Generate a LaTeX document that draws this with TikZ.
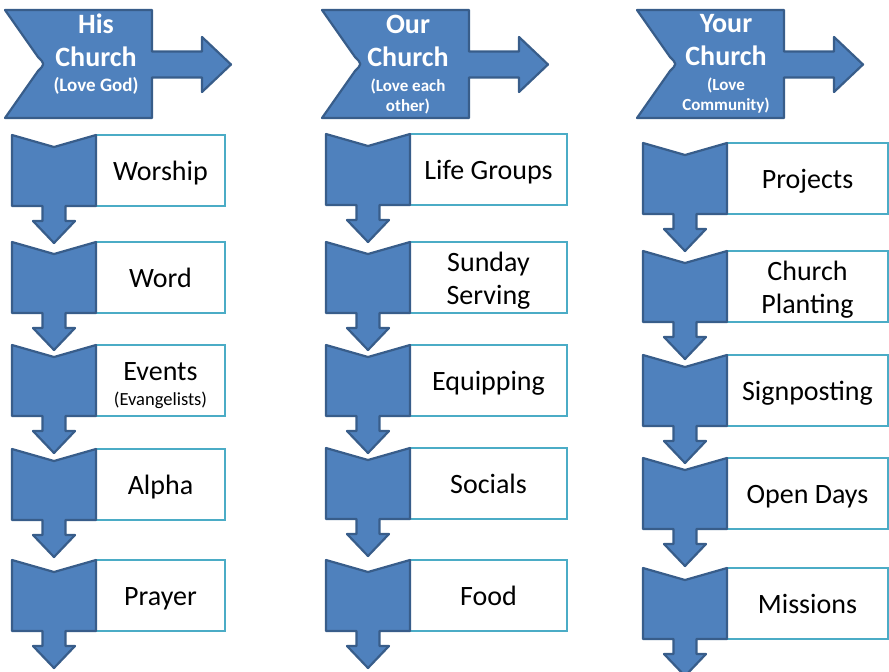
\documentclass[tikz,border=0pt]{standalone}
\usepackage{fontspec}
\setmainfont{Carlito}
\usepackage{tikz}
\definecolor{shapeblue}{HTML}{4F81BD}
\definecolor{shapeline}{HTML}{385D8A}
\definecolor{boxline}{HTML}{4BACC6}

\begin{document}
\begin{tikzpicture}[x=1pt,y=-1pt]
    \tikzstyle{headshape}=[draw=shapeline,fill=shapeblue,line width=2.2pt,line join=round]
    \tikzstyle{stepshape}=[draw=shapeline,fill=shapeblue,line width=2.2pt,line join=round]
    \tikzstyle{stepbox}=[draw=boxline,fill=white,line width=2.2pt,inner sep=0pt,minimum height=71pt,
        align=center,text height=22pt,text depth=3pt,font=\fontsize{28}{33}\selectfont]
    \tikzstyle{twolines}=[text height=56pt,text depth=3pt]
    \tikzstyle{hiscol}=[stepbox,minimum width=129pt]
    \tikzstyle{ourcol}=[stepbox,minimum width=157pt]
    \tikzstyle{yourcol}=[stepbox,minimum width=161pt]
    \tikzstyle{headtext}=[text=white,inner sep=0pt,align=center,anchor=north,
        font=\bfseries\fontsize{28}{33}\selectfont]

    \useasboundingbox (0,0) rectangle (889,672);

    % header arrows
    \foreach \L in {5,322,637}
        \draw[headshape] (\L,10) -- ++(147,0) -- ++(0,41.5) -- ++(50,0) -- ++(0,-14.5)
            -- ++(29,27.5) -- ++(-29,27.5) -- ++(0,-14.5) -- ++(-50,0) -- ++(0,40.5)
            -- ++(-147,0) -- ++(33,-47) .. controls +(7,-7) and +(7,7) .. ++(0,-14) -- cycle;

    \node[headtext] (his) at (96,14) {His\\Church\\[-8pt]{\fontsize{19}{22}\selectfont (Love God)}};
    \node[headtext] (our) at (408,14.5) {Our\\Church\\[-8pt]{\fontsize{17}{20}\selectfont (Love each}\\[-13pt]{\fontsize{17}{20}\selectfont other)}};
    \node[headtext] (your) at (726,14.5) {Your\\Church\\[-8pt]{\fontsize{17}{20}\selectfont (Love}\\[-13pt]{\fontsize{17}{20}\selectfont Community)}};

    % text boxes
    \node[hiscol] (worship) at (160.5,170.5) {Worship};
    \node[hiscol] (word) at (160.5,277.5) {Word};
    \node[hiscol, text height=52pt] (events) at (160.5,380.5) {Events\\[-8pt]{\fontsize{18.5}{22}\selectfont (Evangelists)}};
    \node[hiscol] (alpha) at (160.5,484.5) {Alpha};
    \node[hiscol] (prayer) at (160.5,595.5) {Prayer};

    \node[ourcol] (lifegroups) at (488.5,169.5) {Life Groups};
    \node[ourcol, twolines] (sunday) at (488.5,277.5) {Sunday\\Serving};
    \node[ourcol] (equipping) at (488.5,380.5) {Equipping};
    \node[ourcol] (socials) at (488.5,483.5) {Socials};
    \node[ourcol] (food) at (488.5,595.5) {Food};

    \node[yourcol] (projects) at (807.5,178.5) {Projects};
    \node[yourcol, twolines] (planting) at (807.5,286.5) {Church\\Planting};
    \node[yourcol] (signposting) at (807.5,390.5) {Signposting};
    \node[yourcol] (opendays) at (807.5,493.5) {Open Days};
    \node[yourcol] (missions) at (807.5,603.5) {Missions};

    % notched steps with down arrows
    \foreach \c/\t in {54/135,54/242,54/345,54/449,54/560,
                       368/134,368/242,368/345,368/448,368/560,
                       685/143,685/251,685/355,685/458,685/568}
        \draw[stepshape] (\c-42,\t) -- (\c,\t+12) -- (\c+42,\t) -- (\c+42,\t+71)
            -- (\c+11.5,\t+71) -- (\c+11.5,\t+86) -- (\c+21,\t+86) -- (\c,\t+108)
            -- (\c-21,\t+86) -- (\c-11.5,\t+86) -- (\c-11.5,\t+71) -- (\c-42,\t+71) -- cycle;

\end{tikzpicture}
\end{document}
